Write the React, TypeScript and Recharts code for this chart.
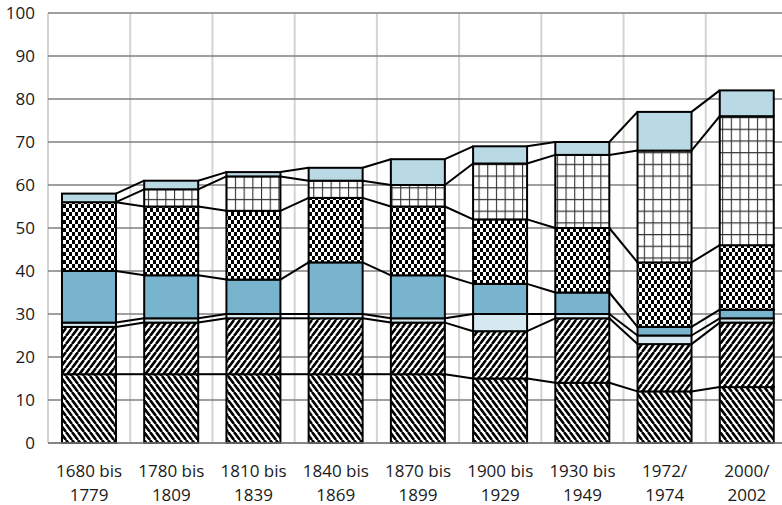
import React from 'react';
import { BarChart, Bar, XAxis, YAxis, CartesianGrid } from 'recharts';

const categoryTop = ['1680 bis', '1780 bis', '1810 bis', '1840 bis', '1870 bis', '1900 bis', '1930 bis', '1972/', '2000/'];
const categoryBottom = ['1779', '1809', '1839', '1869', '1899', '1929', '1949', '1974', '2002'];

const hatchBackValues = [16, 16, 16, 16, 16, 15, 14, 12, 13];
const hatchFwdValues = [11, 12, 13, 13, 12, 11, 15, 11, 15];
const paleBlueValues = [1, 1, 1, 1, 1, 4, 1, 2, 1];
const midBlueValues = [12, 10, 8, 12, 10, 7, 5, 2, 2];
const checkerValues = [16, 16, 16, 15, 16, 15, 15, 15, 15];
const gridValues = [0, 4, 8, 4, 5, 13, 17, 26, 30];
const topBlueValues = [2, 2, 1, 3, 6, 4, 3, 9, 6];

const yTicks = [0, 10, 20, 30, 40, 50, 60, 70, 80, 90, 100];
const YMAX = 100;

const seriesList = [
  { key: 's1', values: hatchBackValues, fill: 'url(#hatchBack)' },
  { key: 's2', values: hatchFwdValues, fill: 'url(#hatchFwd)' },
  { key: 's3', values: paleBlueValues, fill: '#d8eaf1' },
  { key: 's4', values: midBlueValues, fill: '#79b4ce' },
  { key: 's5', values: checkerValues, fill: 'url(#checker)' },
  { key: 's6', values: gridValues, fill: 'url(#gridPat)' },
  { key: 's7', values: topBlueValues, fill: '#b9d9e4' },
];

const data = categoryTop.map((_, i) => {
  const row: Record<string, any> = { cat: String(i) };
  seriesList.forEach((s) => {
    row[s.key] = s.values[i];
  });
  return row;
});

const cumTops = seriesList.map((_, k) =>
  categoryTop.map((__, i) => seriesList.slice(0, k + 1).reduce((a, s) => a + s.values[i], 0))
);

const barPos: Record<number, { x: number; width: number }> = {};

function makeShape(k: number, fill: string) {
  return (props: any) => {
    const { x, y, width, height, index, background } = props;
    barPos[index] = { x, width };
    let link: React.ReactNode = null;
    const prev = barPos[index - 1];
    if (index > 0 && prev && background) {
      const toPx = (v: number) => background.y + background.height * (1 - v / YMAX);
      link = (
        <line
          x1={prev.x + prev.width}
          y1={toPx(cumTops[k][index - 1])}
          x2={x}
          y2={toPx(cumTops[k][index])}
          stroke="#000"
          strokeWidth={2}
        />
      );
    }
    return (
      <g>
        {height > 0 ? (
          <rect x={x} y={y} width={width} height={height} fill={fill} stroke="#000" strokeWidth={2} />
        ) : null}
        {link}
      </g>
    );
  };
}

const FONT = '"Open Sans", "Noto Sans", sans-serif';

const XTick = (props: any) => {
  const { x, y, index } = props;
  return (
    <text x={x} y={y} textAnchor="middle" fontSize={17} fill="#1a1a1a" fontFamily={FONT}>
      <tspan x={x} dy={32}>{categoryTop[index]}</tspan>
      <tspan x={x} dy={23.5}>{categoryBottom[index]}</tspan>
    </text>
  );
};

export default function App() {
  return (
    <div style={{ position: 'fixed', left: 0, top: 0, width: 782, height: 505, overflow: 'hidden', background: '#fff' }}>
      <svg width={0} height={0} style={{ position: 'absolute' }}>
        <defs>
          <pattern id="hatchBack" patternUnits="userSpaceOnUse" width={6} height={8}>
            <rect x={0} y={0} width={6} height={8} fill="#fff" />
            <path d="M-6,0 L0,8 M0,0 L6,8 M6,0 L12,8" stroke="#000" strokeWidth={2.6} />
          </pattern>
          <pattern id="hatchFwd" patternUnits="userSpaceOnUse" width={6} height={8}>
            <rect x={0} y={0} width={6} height={8} fill="#fff" />
            <path d="M-6,8 L0,0 M0,8 L6,0 M6,8 L12,0" stroke="#000" strokeWidth={2.6} />
          </pattern>
          <pattern id="checker" patternUnits="userSpaceOnUse" width={6} height={8}>
            <rect x={0} y={0} width={6} height={8} fill="#fff" />
            <rect x={0} y={0} width={3} height={4} fill="#000" />
            <rect x={3} y={4} width={3} height={4} fill="#000" />
          </pattern>
          <pattern id="gridPat" patternUnits="userSpaceOnUse" width={8.7} height={11.7}>
            <rect x={0} y={0} width={8.7} height={11.7} fill="#fff" />
            <path d="M0.5,0 L0.5,11.7 M0,0.5 L8.7,0.5" stroke="#333" strokeWidth={1.2} />
          </pattern>
        </defs>
      </svg>
      <BarChart
        width={790}
        height={505}
        data={data}
        margin={{ top: 13, right: 2, bottom: 0, left: 0 }}
        barCategoryGap="17%"
      >
        <CartesianGrid
          horizontal={false}
          stroke="#d4d4d4"
          strokeWidth={2}
          verticalCoordinatesGenerator={({ offset }: any) =>
            Array.from({ length: categoryTop.length + 1 }, (_, i) => offset.left + (i * offset.width) / categoryTop.length)
          }
        />
        <CartesianGrid vertical={false} stroke="#7f7f7f" strokeWidth={1.4} />
        <XAxis
          dataKey="cat"
          height={62}
          interval={0}
          tickLine={false}
          tickSize={0}
          axisLine={{ stroke: '#7f7f7f', strokeWidth: 1.5 }}
          tick={<XTick />}
        />
        <YAxis
          domain={[0, YMAX]}
          ticks={yTicks}
          width={48}
          axisLine={false}
          tickLine={false}
          tickSize={0}
          tickMargin={13}
          interval={0}
          tick={{ fontSize: 17, fill: '#1a1a1a', fontFamily: FONT }}
        />
        {seriesList.map((s, k) => (
          <Bar key={s.key} dataKey={s.key} stackId="a" isAnimationActive={false} shape={makeShape(k, s.fill)} />
        ))}
      </BarChart>
    </div>
  );
}
